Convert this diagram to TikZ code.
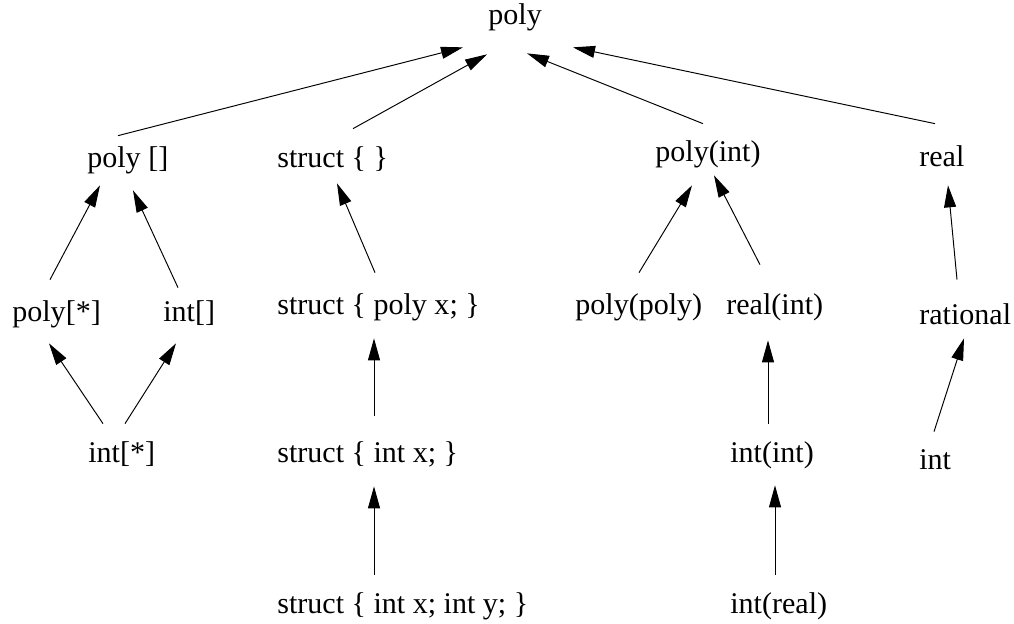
\documentclass[tikz,border=0pt]{standalone}
\usepackage{fontspec}
\setmainfont{Liberation Serif}
\usetikzlibrary{arrows.meta}

\begin{document}
\begin{tikzpicture}[x=0.02cm, y=-0.02cm, >={Triangle[length=0.44cm, width=0.24cm]},
    type/.style={anchor=base west, inner sep=0pt, text height=0.42cm, text depth=0.15cm,
                 font=\fontsize{17.1}{20}\selectfont},
    lien/.style={->, line width=0.55pt}]
  \useasboundingbox (0, 0) rectangle (1014, 624);

  % Racine
  \node[type] (poly) at (488, 25) {poly};

  % Niveau 1
  \node[type] (polyarr) at (87, 168)  {poly []};
  \node[type] (structe) at (277, 168) {struct \{ \}};
  \node[type] (polyint) at (655, 162) {poly(int)};
  \node[type] (real)    at (919, 167) {real};

  % Niveau 2
  \node[type] (polystar)   at (12, 322)  {poly[*]};
  \node[type] (intarr)     at (163, 322) {int[]};
  \node[type] (structpoly) at (277, 315) {struct \{ poly x; \}};
  \node[type] (polypoly)   at (575, 315) {poly(poly)};
  \node[type] (realint)    at (726, 315) {real(int)};
  \node[type] (rational)   at (919, 325) {rational};

  % Niveau 3
  \node[type] (intstar)   at (88, 463)  {int[*]};
  \node[type] (structint) at (277, 463) {struct \{ int x; \}};
  \node[type] (intint)    at (730, 463) {int(int)};
  \node[type] (int)       at (919, 470) {int};

  % Niveau 4
  \node[type] (structintint) at (277, 613) {struct \{ int x; int y; \}};
  \node[type] (intreal)      at (730, 613) {int(real)};

  % Vers la racine
  \draw[lien] ([shift={(31,-11)}]polyarr.north west) -- ([shift={(-25,14.5)}]poly.south west);
  \draw[lien] ([shift={(76,-18)}]structe.north west) -- ([shift={(-1,21.5)}]poly.south west);
  \draw[lien] ([shift={(48,-17)}]polyint.north west) -- ([shift={(39,20.5)}]poly.south west);
  \draw[lien] ([shift={(16,-22)}]real.north west) -- ([shift={(85,14.5)}]poly.south west);

  % Tableaux
  \draw[lien] ([shift={(38,-21)}]polystar.north west) -- ([shift={(13,9.5)}]polyarr.south west);
  \draw[lien] ([shift={(15,-13)}]intarr.north west) -- ([shift={(46,14.5)}]polyarr.south west);
  \draw[lien] ([shift={(15,-18)}]intstar.north west) -- ([shift={(37,13.5)}]polystar.south west);
  \draw[lien] ([shift={(37,-18)}]intstar.north west) -- ([shift={(13,13.5)}]intarr.south west);

  % Structures
  \draw[lien] ([shift={(98,-21)}]structpoly.north west) -- ([shift={(60,7.5)}]structe.south west);
  \draw[lien] ([shift={(97,-26)}]structint.north west) -- ([shift={(97,15.5)}]structpoly.south west);
  \draw[lien] ([shift={(97,-17)}]structintint.north west) -- ([shift={(97,15.5)}]structint.south west);

  % Fonctions
  \draw[lien] ([shift={(64,-21)}]polypoly.north west) -- ([shift={(37,15.5)}]polyint.south west);
  \draw[lien] ([shift={(34,-29)}]realint.north west) -- ([shift={(59,5.5)}]polyint.south west);
  \draw[lien] ([shift={(38,-18)}]intint.north west) -- ([shift={(42,17.5)}]realint.south west);
  \draw[lien] ([shift={(45,-17)}]intreal.north west) -- ([shift={(45,14.5)}]intint.south west);

  % Nombres
  \draw[lien] ([shift={(38,-24)}]rational.north west) -- ([shift={(29,10.5)}]real.south west);
  \draw[lien] ([shift={(15,-17)}]int.north west) -- ([shift={(45,5.5)}]rational.south west);
\end{tikzpicture}
\end{document}
